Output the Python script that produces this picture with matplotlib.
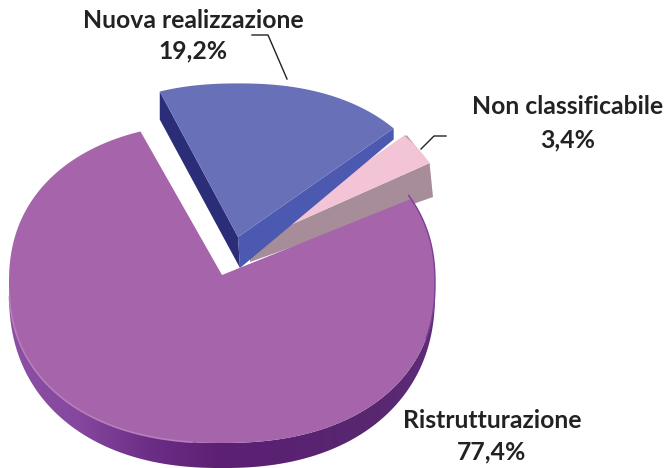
import numpy as np
import matplotlib
matplotlib.use("Agg")
import matplotlib.pyplot as plt
from matplotlib.colors import LinearSegmentedColormap
from matplotlib.patches import Polygon

# ---------- Data ---------- #
labels = ["Ristrutturazione", "Nuova realizzazione", "Non classificabile"]
values = [77.4, 19.2, 3.4]
value_labels = ["77,4%", "19,2%", "3,4%"]

# ---------- Layout (pixels) ---------- #
cx, cy = 222, 283
rx, ry = 213, 160
power = 2.25  # the drawn pie is a bit squarer than an ellipse
start = 112

plt.rcParams['font.family'] = ['Lato', 'DejaVu Sans']


def arc(t0, t1, ox=0, oy=0, scale=1.0, sy=1.0, n=120):
    t = np.radians(np.linspace(t0, t1, n))
    r = scale * (np.abs(np.cos(t)) ** power + np.abs(np.sin(t)) ** power) ** (-1 / power)
    return np.column_stack((cx + ox + rx * r * np.cos(t), cy + oy - ry * sy * r * np.sin(t)))


# slice angles, clockwise after the big slice
sweep = [v * 3.6 for v in values]
purple_t0, purple_t1 = start, start + sweep[0]
blue_t0, blue_t1 = start - sweep[1], start
pink_t0, pink_t1 = blue_t0 - sweep[2], blue_t0

fig = plt.figure(figsize=(6.64, 4.68), dpi=100)
ax = fig.add_axes([0, 0, 1, 1])
ax.axis("off")

# ---------- Pink slice ---------- #
pink_arc = arc(pink_t0, pink_t1, 28, -40, scale=0.95)
p_apex = (250, 243)
ax.add_patch(Polygon([p_apex, (250, 262), (433, 197), pink_arc[0]], fc="#a78c9a", ec="none"))
ax.add_patch(Polygon(np.vstack((pink_arc[0], pink_arc[-1], pink_arc[-1] + (3, 0), pink_arc[0] + (2, 3))),
                     fc="#b59aa6", ec="none"))
ax.add_patch(Polygon(np.vstack(([p_apex], pink_arc)), fc="#f3c4d6", ec="none"))

# ---------- Blue slice ---------- #
blue_arc = arc(blue_t0, blue_t1, 16, -46, scale=0.96)
b_apex = (238, 237)
ax.add_patch(Polygon([b_apex, blue_arc[-1], blue_arc[-1] + (0, 28), (240, 268)], fc="#2b2d78", ec="none"))
ax.add_patch(Polygon([b_apex, blue_arc[0], blue_arc[0] + (0, 11), (240, 268)], fc="#4b59b0", ec="none"))
ax.add_patch(Polygon(np.vstack(([b_apex], blue_arc)), fc="#6870b7", ec="none"))

# ---------- Purple slice ---------- #
rim_poly = Polygon(np.vstack((arc(172, 368), arc(368, 172, 0, 10, sy=1.094))), fc="none", ec="none")
ax.add_patch(rim_poly)
rim_cmap = LinearSegmentedColormap.from_list(
    "rim", ["#8e4fa6", "#86479f", "#6c2d86", "#5c2072", "#5a2273", "#58276f", "#5e2c7a"])
rim_img = ax.imshow(np.linspace(0, 1, 256).reshape(1, -1), cmap=rim_cmap, extent=(5, 440, 468, 280), aspect="auto")
rim_img.set_clip_path(rim_poly)

purple_arc = arc(purple_t0, purple_t1, n=400)
ax.add_patch(Polygon(np.vstack(([(222, 275)], purple_arc)), fc="#a665aa", ec="none"))
ax.plot(*arc(185, 262, n=80).T, color="#b77fbb", lw=1.2, solid_capstyle="round")
ax.plot(*arc(340, 392, n=80).T, color="#7a3f93", lw=1.0)

# ---------- Leader lines ---------- #
ax.plot([252, 268, 287], [35, 35, 79], color="#222222", lw=1.0)
ax.plot([421, 434, 446], [149, 136, 136], color="#222222", lw=1.0)

# ---------- Labels ---------- #
txt = dict(ha="center", va="center", fontsize=17.8, fontweight="bold", color="#222222")
ax.text(193, 21, labels[1], **txt)
ax.text(193, 51, value_labels[1], **txt)
ax.text(568, 107, labels[2], **txt)
ax.text(568, 140, value_labels[2], **txt)
ax.text(492, 420, labels[0], **txt)
ax.text(492, 452, value_labels[0], **txt)

ax.set_xlim(0, 664)
ax.set_ylim(468, 0)

fig.savefig("out.png", dpi=100)
